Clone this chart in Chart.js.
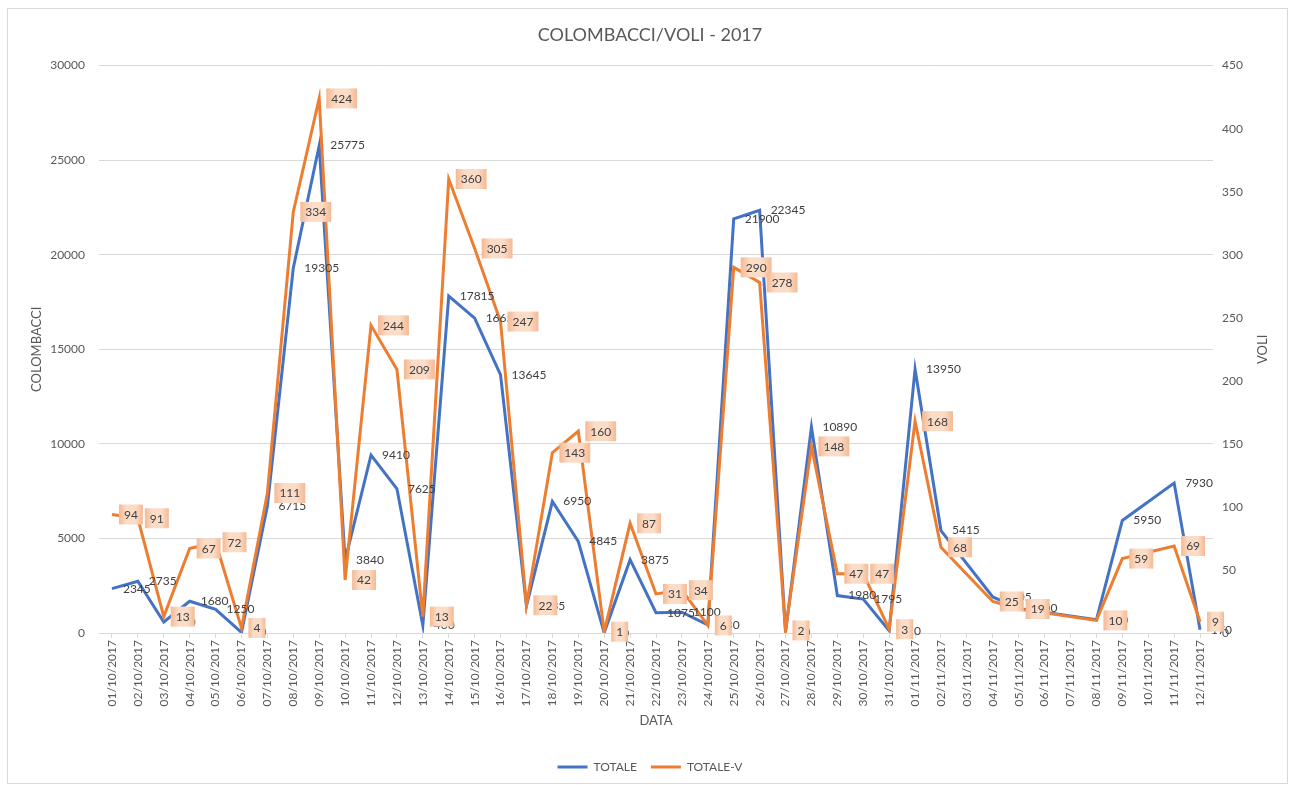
<!DOCTYPE html>
<html>
<head>
<meta charset="utf-8">
<title>COLOMBACCI/VOLI - 2017</title>
<script src="https://cdn.jsdelivr.net/npm/chart.js@4.4.1/dist/chart.umd.min.js"></script>
<style>
  html, body { margin: 0; padding: 0; background: #ffffff; }
  #wrap { position: relative; width: 1292px; height: 785px; }
  #frame { position: absolute; left: 7px; top: 8px; width: 1279px; height: 774px;
           border: 1px solid #d9d9d9; pointer-events: none; }
  canvas { position: absolute; left: 0; top: 0; }
</style>
</head>
<body>
<div id="wrap">
  <canvas id="chart" width="1292" height="785"></canvas>
  <div id="frame"></div>
</div>
<script>
// Giorni di rilevazione
const dates = [
  '01/10/2017','02/10/2017','03/10/2017','04/10/2017','05/10/2017','06/10/2017','07/10/2017',
  '08/10/2017','09/10/2017','10/10/2017','11/10/2017','12/10/2017','13/10/2017','14/10/2017',
  '15/10/2017','16/10/2017','17/10/2017','18/10/2017','19/10/2017','20/10/2017','21/10/2017',
  '22/10/2017','23/10/2017','24/10/2017','25/10/2017','26/10/2017','27/10/2017','28/10/2017',
  '29/10/2017','30/10/2017','31/10/2017','01/11/2017','02/11/2017','03/11/2017','04/11/2017',
  '05/11/2017','06/11/2017','07/11/2017','08/11/2017','09/11/2017','10/11/2017','11/11/2017',
  '12/11/2017'
];

// Colombacci contati (asse sinistro); null = giorno senza dato
const totale = [
  2345, 2735, 580, 1680, 1250, 30, 6715,
  19305, 25775, 3840, 9410, 7625, 400, 17815,
  16650, 13645, 1435, 6950, 4845, 10, 3875,
  1075, 1100, 430, 21900, 22345, 50, 10890,
  1980, 1795, 120, 13950, 5415, null, 1905,
  1300, null, null, 700, 5950, null, 7930,
  170
];

// Voli registrati (asse destro)
const totaleV = [
  94, 91, 13, 67, 72, 4, 111,
  334, 424, 42, 244, 209, 13, 360,
  305, 247, 22, 143, 160, 1, 87,
  31, 34, 6, 290, 278, 2, 148,
  47, 47, 3, 168, 68, null, 25,
  19, null, null, 10, 59, null, 69,
  9
];

const leftTicks = [0, 5000, 10000, 15000, 20000, 25000, 30000];
const rightTicks = [0, 50, 100, 150, 200, 250, 300, 350, 400, 450];

const FONT = 'Lato, "Open Sans", sans-serif';
const TEXT_GREY = '#595959';
const LABEL_GREY = '#404040';
const GRID = '#d9d9d9';
const BLUE = '#4472c4';
const ORANGE = '#ed7d31';

Chart.defaults.font.family = FONT;
Chart.defaults.color = TEXT_GREY;

// Etichette dei valori: testo semplice per TOTALE, riquadro pesca per TOTALE-V
const valueLabels = {
  id: 'valueLabels',
  afterDatasetsDraw(chart) {
    const ctx = chart.ctx;
    ctx.save();
    ctx.font = '12px ' + FONT;
    ctx.textBaseline = 'middle';
    ctx.textAlign = 'left';
    [0, 1].forEach(di => {
      const meta = chart.getDatasetMeta(di);
      const values = chart.data.datasets[di].data;
      meta.data.forEach((pt, i) => {
        const v = values[i];
        if (v === null || v === undefined) return;
        const txt = String(v);
        if (di === 0) {
          ctx.fillStyle = LABEL_GREY;
          ctx.fillText(txt, pt.x + 11, pt.y);
        } else {
          const tw = ctx.measureText(txt).width;
          const w = tw + 10, h = 20;
          const x0 = pt.x + 7, y0 = pt.y - h / 2;
          const g = ctx.createLinearGradient(x0, 0, x0 + w, 0);
          g.addColorStop(0, '#f5b993');
          g.addColorStop(0.3, '#fbdcc7');
          g.addColorStop(0.7, '#fbdcc7');
          g.addColorStop(1, '#f5b993');
          ctx.fillStyle = g;
          ctx.fillRect(x0, y0, w, h);
          ctx.fillStyle = LABEL_GREY;
          ctx.fillText(txt, x0 + 5, pt.y + 0.5);
        }
      });
    });
    ctx.restore();
  }
};

// Titolo dell'asse secondario, ruotato come quello principale
const rightAxisTitle = {
  id: 'rightAxisTitle',
  afterDraw(chart) {
    const s = chart.scales.yV;
    const ctx = chart.ctx;
    ctx.save();
    ctx.font = '13px ' + FONT;
    ctx.fillStyle = TEXT_GREY;
    ctx.textAlign = 'center';
    ctx.textBaseline = 'middle';
    ctx.translate(s.right - 17, (s.top + s.bottom) / 2);
    ctx.rotate(-Math.PI / 2);
    ctx.fillText('VOLI', 0, 0);
    ctx.restore();
  }
};

new Chart(document.getElementById('chart'), {
  type: 'line',
  data: {
    labels: dates,
    datasets: [
      {
        label: 'TOTALE',
        data: totale,
        yAxisID: 'y',
        borderColor: BLUE,
        backgroundColor: BLUE,
        borderWidth: 3,
        pointRadius: 0,
        pointHoverRadius: 0,
        tension: 0,
        spanGaps: true,
        order: 1
      },
      {
        label: 'TOTALE-V',
        data: totaleV,
        yAxisID: 'yV',
        borderColor: ORANGE,
        backgroundColor: ORANGE,
        borderWidth: 3,
        pointRadius: 0,
        pointHoverRadius: 0,
        tension: 0,
        spanGaps: true,
        order: 0
      }
    ]
  },
  options: {
    responsive: false,
    animation: false,
    layout: { padding: { left: 20, right: 12, top: 8, bottom: 2 } },
    plugins: {
      title: {
        display: true,
        text: 'COLOMBACCI/VOLI - 2017',
        color: TEXT_GREY,
        font: { size: 18, weight: 'normal', family: FONT },
        padding: { top: 16, bottom: 20 }
      },
      legend: {
        position: 'bottom',
        labels: {
          color: TEXT_GREY,
          font: { size: 12, family: FONT },
          boxWidth: 30,
          boxHeight: 3,
          padding: 14,
          sort: (a, b) => a.datasetIndex - b.datasetIndex,
          generateLabels(chart) {
            const items = Chart.defaults.plugins.legend.labels.generateLabels(chart);
            items.forEach(it => { it.lineWidth = 0; });
            return items;
          }
        }
      },
      tooltip: { enabled: false }
    },
    scales: {
      x: {
        offset: true,
        grid: { display: true, drawOnChartArea: false, drawTicks: true, tickLength: 5, color: GRID },
        border: { display: true, color: GRID },
        ticks: {
          color: TEXT_GREY,
          font: { size: 12, family: FONT },
          minRotation: 90,
          maxRotation: 90,
          autoSkip: false,
          padding: 2
        },
        title: {
          display: true,
          text: 'DATA',
          color: TEXT_GREY,
          font: { size: 13, family: FONT },
          padding: { top: 4, bottom: 18 }
        },
        afterFit(scale) { scale.height = 114; }
      },
      y: {
        position: 'left',
        min: 0,
        max: 30000,
        afterBuildTicks(scale) { scale.ticks = leftTicks.map(v => ({ value: v })); },
        grid: { color: GRID, drawTicks: false },
        border: { display: false },
        ticks: {
          color: TEXT_GREY,
          font: { size: 12, family: FONT },
          padding: 14,
          callback: v => String(v)
        },
        title: {
          display: true,
          text: 'COLOMBACCI',
          color: TEXT_GREY,
          font: { size: 13, family: FONT },
          padding: { top: 9, bottom: 0 }
        },
        afterFit(scale) { scale.width = 79; }
      },
      yV: {
        position: 'right',
        min: 0,
        max: 450,
        afterBuildTicks(scale) { scale.ticks = rightTicks.map(v => ({ value: v })); },
        grid: { display: false, drawTicks: false },
        border: { display: false },
        ticks: {
          color: TEXT_GREY,
          font: { size: 12, family: FONT },
          padding: 9,
          callback: v => String(v)
        },
        afterFit(scale) { scale.width = 67; }
      }
    }
  },
  plugins: [valueLabels, rightAxisTitle]
});
</script>
</body>
</html>
